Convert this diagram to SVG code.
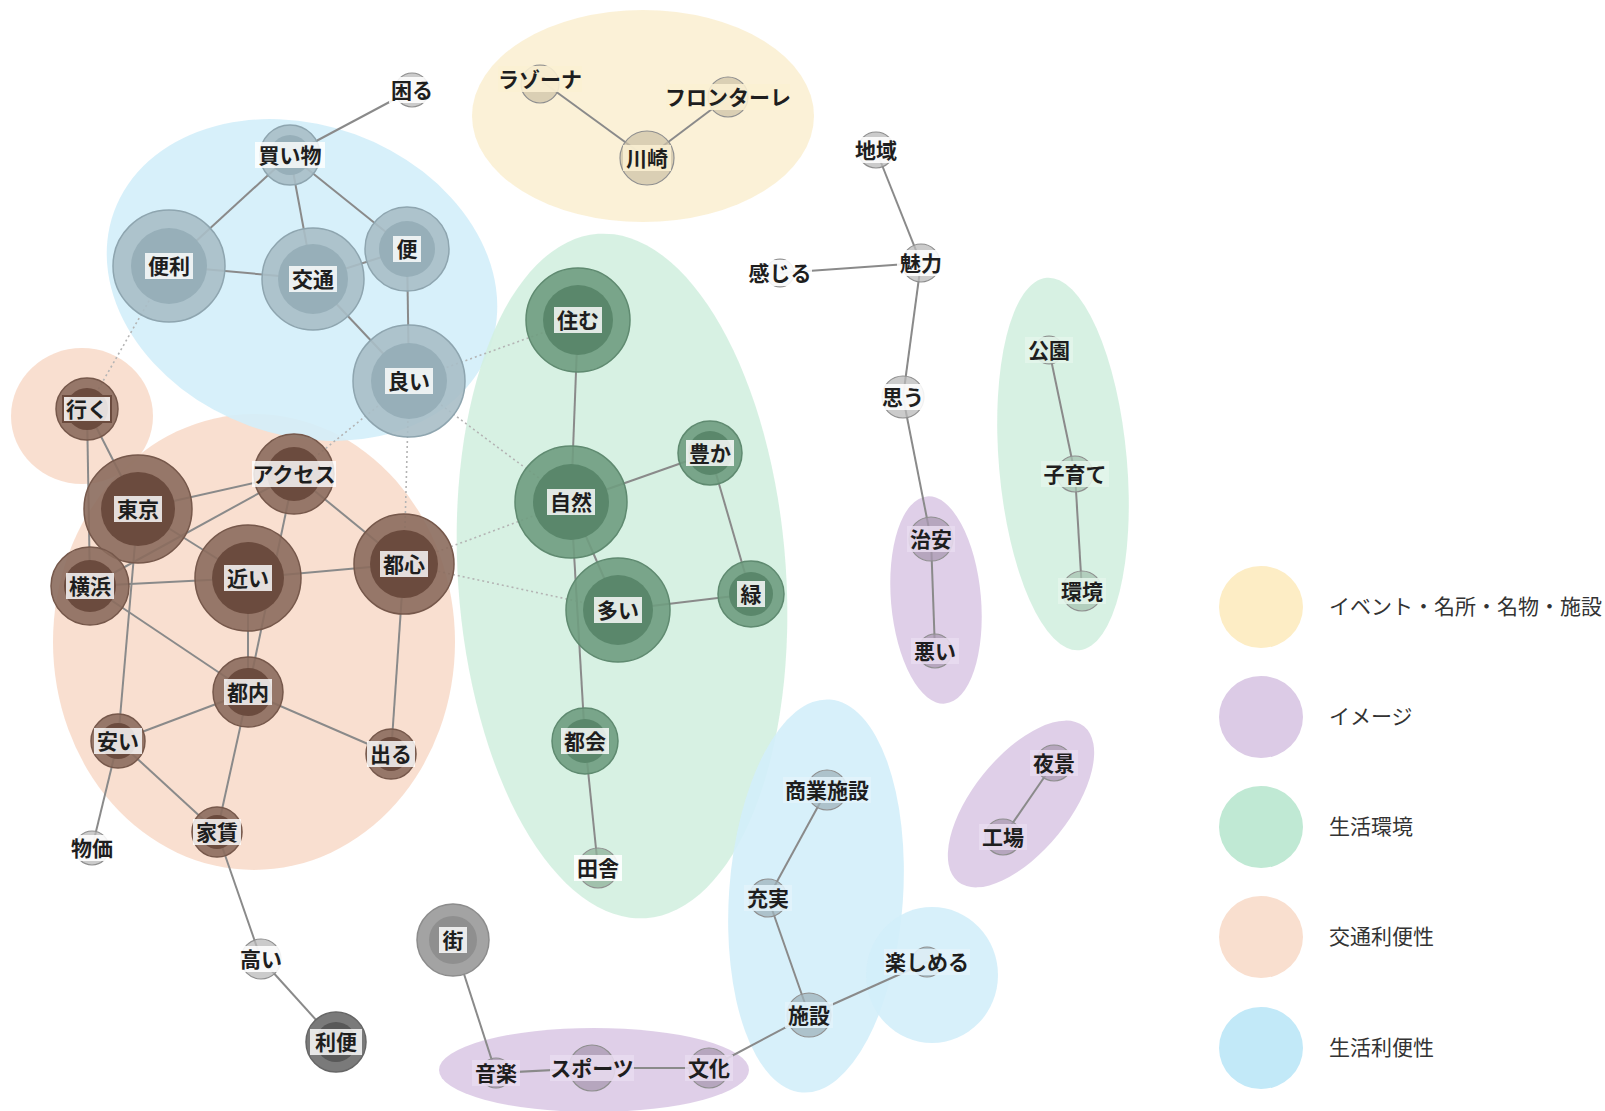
<svg xmlns="http://www.w3.org/2000/svg" width="1605" height="1111" viewBox="0 0 1605 1111">
<style>
.cl{opacity:0.9}
.cy{fill:#fbf0d3}.cp{fill:#dccae6}.cg{fill:#d3f0e0}.co{fill:#f8dccb}.cb{fill:#d3eef9}
.e{stroke:#8a8a8a;stroke-width:2;fill:none}
.d{stroke:#b4b4b4;stroke-width:1.6;stroke-dasharray:2 3;fill:none}
.blue .o{fill:#a8bec7;stroke:#8ea5af;stroke-width:1.5;fill-opacity:.9}
.blue .i{fill:#97afb9}
.brown .o{fill:#8b6b5d;stroke:#76584b;stroke-width:1.5;fill-opacity:.9}
.brown .i{fill:#6b4b3e}
.green .o{fill:#6f9c80;stroke:#5f8a70;stroke-width:1.5;fill-opacity:.9}
.green .i{fill:#5a876b}
.gray .o{fill:#a3a3a3;stroke:#8c8c8c;stroke-width:1.5}
.gray .i{fill:#8f8f8f}
.dgray .o{fill:#7a7a7a;stroke:#666;stroke-width:1.5}
.dgray .i{fill:#585858}
.sm .o{fill:#b9b9b9;stroke:#8f8f8f;stroke-width:1.2;fill-opacity:.75}
.lb{fill:#fff;fill-opacity:.82}
.sm .lb{fill-opacity:.88}
.t{font-family:"Noto Sans CJK JP","Noto Sans",sans-serif;font-size:21px;font-weight:bold;fill:#1e1e1e;text-anchor:middle}
.lg{font-family:"Noto Sans CJK JP","Noto Sans",sans-serif;font-size:21px;fill:#333}
</style>

<g id="clusters">
<ellipse class="cl cy" cx="643" cy="116" rx="171" ry="106"/>
<ellipse class="cl co" cx="254" cy="642" rx="201" ry="228"/>
<ellipse class="cl co" cx="82" cy="416" rx="71" ry="68"/>
<ellipse class="cl cb" cx="302" cy="280" rx="200" ry="155" transform="rotate(20 302 280)"/>
<ellipse class="cl cg" cx="622" cy="576" rx="164" ry="343" transform="rotate(-4 622 576)"/>
<ellipse class="cl cg" cx="1063" cy="464" rx="64" ry="187" transform="rotate(-5 1063 464)"/>
<ellipse class="cl cp" cx="936" cy="600" rx="45" ry="104" transform="rotate(-5 936 600)"/>
<ellipse class="cl cp" cx="1021" cy="804" rx="100" ry="48" transform="rotate(-51 1021 804)"/>
<ellipse class="cl cb" cx="816" cy="896" rx="87" ry="197" transform="rotate(4 816 896)"/>
<ellipse class="cl cb" cx="932" cy="975" rx="66" ry="68"/>
<ellipse class="cl cp" cx="594" cy="1070" rx="155" ry="42"/>
</g>

<g id="connectors">
<line class="d" x1="169" y1="266" x2="87" y2="409"/>
<line class="d" x1="409" y1="381" x2="294" y2="474"/>
<line class="d" x1="409" y1="381" x2="404" y2="564"/>
<line class="d" x1="409" y1="381" x2="578" y2="320"/>
<line class="d" x1="409" y1="381" x2="571" y2="502"/>
<line class="d" x1="404" y1="564" x2="571" y2="502"/>
<line class="d" x1="404" y1="564" x2="618" y2="610"/>
<line class="e" x1="412" y1="90" x2="290" y2="155"/>
<line class="e" x1="290" y1="155" x2="169" y2="266"/>
<line class="e" x1="290" y1="155" x2="313" y2="279"/>
<line class="e" x1="290" y1="155" x2="407" y2="249"/>
<line class="e" x1="169" y1="266" x2="313" y2="279"/>
<line class="e" x1="313" y1="279" x2="407" y2="249"/>
<line class="e" x1="313" y1="279" x2="409" y2="381"/>
<line class="e" x1="407" y1="249" x2="409" y2="381"/>
<line class="e" x1="87" y1="409" x2="138" y2="509"/>
<line class="e" x1="87" y1="409" x2="90" y2="586"/>
<line class="e" x1="138" y1="509" x2="294" y2="474"/>
<line class="e" x1="138" y1="509" x2="248" y2="578"/>
<line class="e" x1="138" y1="509" x2="118" y2="741"/>
<line class="e" x1="90" y1="586" x2="294" y2="474"/>
<line class="e" x1="90" y1="586" x2="248" y2="578"/>
<line class="e" x1="90" y1="586" x2="248" y2="692"/>
<line class="e" x1="294" y1="474" x2="248" y2="692"/>
<line class="e" x1="294" y1="474" x2="404" y2="564"/>
<line class="e" x1="248" y1="578" x2="404" y2="564"/>
<line class="e" x1="248" y1="578" x2="248" y2="692"/>
<line class="e" x1="248" y1="692" x2="118" y2="741"/>
<line class="e" x1="248" y1="692" x2="217" y2="832"/>
<line class="e" x1="248" y1="692" x2="391" y2="754"/>
<line class="e" x1="404" y1="564" x2="391" y2="754"/>
<line class="e" x1="118" y1="741" x2="92" y2="848"/>
<line class="e" x1="118" y1="741" x2="217" y2="832"/>
<line class="e" x1="217" y1="832" x2="261" y2="959"/>
<line class="e" x1="261" y1="959" x2="336" y2="1042"/>
<line class="e" x1="578" y1="320" x2="571" y2="502"/>
<line class="e" x1="571" y1="502" x2="710" y2="453"/>
<line class="e" x1="571" y1="502" x2="618" y2="610"/>
<line class="e" x1="571" y1="502" x2="585" y2="741"/>
<line class="e" x1="710" y1="453" x2="751" y2="594"/>
<line class="e" x1="618" y1="610" x2="751" y2="594"/>
<line class="e" x1="585" y1="741" x2="598" y2="868"/>
<line class="e" x1="540" y1="80" x2="647" y2="158"/>
<line class="e" x1="647" y1="158" x2="728" y2="97"/>
<line class="e" x1="876" y1="150" x2="921" y2="263"/>
<line class="e" x1="780" y1="273" x2="921" y2="263"/>
<line class="e" x1="921" y1="263" x2="903" y2="397"/>
<line class="e" x1="903" y1="397" x2="931" y2="539"/>
<line class="e" x1="931" y1="539" x2="935" y2="651"/>
<line class="e" x1="1049" y1="350" x2="1075" y2="474"/>
<line class="e" x1="1075" y1="474" x2="1082" y2="591"/>
<line class="e" x1="1054" y1="763" x2="1003" y2="837"/>
<line class="e" x1="453" y1="940" x2="496" y2="1073"/>
<line class="e" x1="496" y1="1073" x2="592" y2="1068"/>
<line class="e" x1="592" y1="1068" x2="709" y2="1068"/>
<line class="e" x1="709" y1="1068" x2="809" y2="1015"/>
<line class="e" x1="809" y1="1015" x2="768" y2="898"/>
<line class="e" x1="768" y1="898" x2="827" y2="790"/>
<line class="e" x1="809" y1="1015" x2="927" y2="962"/>
</g>

<g id="n-komaru" class="sm"><circle class="o" cx="412" cy="90" r="17"/><rect class="lb" x="389" y="77" width="46" height="26"/><text class="t" x="412" y="98">困る</text></g>
<g id="n-kaimono" class="blue"><circle class="o" cx="290" cy="155" r="30"/><circle class="i" cx="290" cy="155" r="20"/><rect class="lb" x="255" y="142" width="70" height="26"/><text class="t" x="290" y="163">買い物</text></g>
<g id="n-benri" class="blue"><circle class="o" cx="169" cy="266" r="56"/><circle class="i" cx="169" cy="266" r="38"/><rect class="lb" x="145" y="253" width="48" height="26"/><text class="t" x="169" y="274">便利</text></g>
<g id="n-kotsu" class="blue"><circle class="o" cx="313" cy="279" r="51"/><circle class="i" cx="313" cy="279" r="35"/><rect class="lb" x="289" y="266" width="48" height="26"/><text class="t" x="313" y="287">交通</text></g>
<g id="n-ben" class="blue"><circle class="o" cx="407" cy="249" r="42"/><circle class="i" cx="407" cy="249" r="28"/><rect class="lb" x="393" y="236" width="28" height="26"/><text class="t" x="407" y="257">便</text></g>
<g id="n-yoi" class="blue"><circle class="o" cx="409" cy="381" r="56"/><circle class="i" cx="409" cy="381" r="38"/><rect class="lb" x="385" y="368" width="48" height="26"/><text class="t" x="409" y="389">良い</text></g>

<g id="n-iku" class="brown"><circle class="o" cx="87" cy="409" r="31"/><circle class="i" cx="87" cy="409" r="21"/><rect class="lb" x="63" y="396" width="48" height="26" style="stroke:#6b4b3e;stroke-width:2"/><text class="t" x="87" y="417">行く</text></g>
<g id="n-tokyo" class="brown"><circle class="o" cx="138" cy="509" r="54"/><circle class="i" cx="138" cy="509" r="37"/><rect class="lb" x="114" y="496" width="48" height="26"/><text class="t" x="138" y="517">東京</text></g>
<g id="n-access" class="brown"><circle class="o" cx="294" cy="474" r="40"/><circle class="i" cx="294" cy="474" r="27"/><rect class="lb" x="252" y="461" width="84" height="26"/><text class="t" x="294" y="482">アクセス</text></g>
<g id="n-yokohama" class="brown"><circle class="o" cx="90" cy="586" r="39"/><circle class="i" cx="90" cy="586" r="26"/><rect class="lb" x="66" y="573" width="48" height="26"/><text class="t" x="90" y="594">横浜</text></g>
<g id="n-chikai" class="brown"><circle class="o" cx="248" cy="578" r="53"/><circle class="i" cx="248" cy="578" r="36"/><rect class="lb" x="224" y="565" width="48" height="26"/><text class="t" x="248" y="586">近い</text></g>
<g id="n-toshin" class="brown"><circle class="o" cx="404" cy="564" r="50"/><circle class="i" cx="404" cy="564" r="34"/><rect class="lb" x="380" y="551" width="48" height="26"/><text class="t" x="404" y="572">都心</text></g>
<g id="n-tonai" class="brown"><circle class="o" cx="248" cy="692" r="35"/><circle class="i" cx="248" cy="692" r="24"/><rect class="lb" x="224" y="679" width="48" height="26"/><text class="t" x="248" y="700">都内</text></g>
<g id="n-yasui" class="brown"><circle class="o" cx="118" cy="741" r="27"/><circle class="i" cx="118" cy="741" r="18"/><rect class="lb" x="94" y="728" width="48" height="26"/><text class="t" x="118" y="749">安い</text></g>
<g id="n-deru" class="brown"><circle class="o" cx="391" cy="754" r="25"/><circle class="i" cx="391" cy="754" r="17"/><rect class="lb" x="367" y="741" width="48" height="26"/><text class="t" x="391" y="762">出る</text></g>
<g id="n-yachin" class="brown"><circle class="o" cx="217" cy="832" r="25"/><circle class="i" cx="217" cy="832" r="17"/><rect class="lb" x="193" y="819" width="48" height="26"/><text class="t" x="217" y="840">家賃</text></g>
<g id="n-bukka" class="sm"><circle class="o" cx="92" cy="848" r="17"/><rect class="lb" x="68" y="835" width="48" height="26"/><text class="t" x="92" y="856">物価</text></g>
<g id="n-takai" class="sm"><circle class="o" cx="261" cy="959" r="20"/><rect class="lb" x="237" y="946" width="48" height="26"/><text class="t" x="261" y="967">高い</text></g>
<g id="n-riben" class="dgray"><circle class="o" cx="336" cy="1042" r="30"/><circle class="i" cx="336" cy="1042" r="20"/><rect class="lb" x="310" y="1029" width="52" height="26"/><text class="t" x="336" y="1050">利便</text></g>

<g id="n-sumu" class="green"><circle class="o" cx="578" cy="320" r="52"/><circle class="i" cx="578" cy="320" r="35"/><rect class="lb" x="554" y="307" width="48" height="26"/><text class="t" x="578" y="328">住む</text></g>
<g id="n-shizen" class="green"><circle class="o" cx="571" cy="502" r="56"/><circle class="i" cx="571" cy="502" r="38"/><rect class="lb" x="547" y="489" width="48" height="26"/><text class="t" x="571" y="510">自然</text></g>
<g id="n-yutaka" class="green"><circle class="o" cx="710" cy="453" r="32"/><circle class="i" cx="710" cy="453" r="22"/><rect class="lb" x="686" y="440" width="48" height="26"/><text class="t" x="710" y="461">豊か</text></g>
<g id="n-midori" class="green"><circle class="o" cx="751" cy="594" r="33"/><circle class="i" cx="751" cy="594" r="22"/><rect class="lb" x="737" y="581" width="28" height="26"/><text class="t" x="751" y="602">緑</text></g>
<g id="n-ooi" class="green"><circle class="o" cx="618" cy="610" r="52"/><circle class="i" cx="618" cy="610" r="35"/><rect class="lb" x="594" y="597" width="48" height="26"/><text class="t" x="618" y="618">多い</text></g>
<g id="n-tokai" class="green"><circle class="o" cx="585" cy="741" r="33"/><circle class="i" cx="585" cy="741" r="22"/><rect class="lb" x="561" y="728" width="48" height="26"/><text class="t" x="585" y="749">都会</text></g>
<g id="n-inaka" class="sm"><circle class="o" cx="598" cy="868" r="20" style="fill:#8fb09a"/><rect class="lb" x="574" y="855" width="48" height="26"/><text class="t" x="598" y="876">田舎</text></g>

<g id="n-lazona" class="sm"><circle class="o" cx="540" cy="84" r="19" style="fill:#cfc3a8"/><rect class="lb" x="498" y="66" width="84" height="26" style="fill:#fbf0d3"/><text class="t" x="540" y="87">ラゾーナ</text></g>
<g id="n-frontale" class="sm"><circle class="o" cx="728" cy="97" r="20" style="fill:#cfc3a8"/><rect class="lb" x="666" y="84" width="124" height="26" style="fill:#fbf0d3"/><text class="t" x="728" y="105">フロンターレ</text></g>
<g id="n-kawasaki" class="sm"><circle class="o" cx="647" cy="158" r="27" style="fill:#cfc3a8"/><rect class="lb" x="623" y="145" width="48" height="26" style="fill:#fbf0d3"/><text class="t" x="647" y="166">川崎</text></g>

<g id="n-chiiki" class="sm"><circle class="o" cx="876" cy="150" r="18"/><rect class="lb" x="852" y="137" width="48" height="26"/><text class="t" x="876" y="158">地域</text></g>
<g id="n-miryoku" class="sm"><circle class="o" cx="921" cy="263" r="19"/><rect class="lb" x="897" y="250" width="48" height="26"/><text class="t" x="921" y="271">魅力</text></g>
<g id="n-kanjiru" class="sm"><circle class="o" cx="780" cy="273" r="14"/><rect class="lb" x="748" y="260" width="64" height="26"/><text class="t" x="780" y="281">感じる</text></g>
<g id="n-omou" class="sm"><circle class="o" cx="903" cy="397" r="21"/><rect class="lb" x="879" y="384" width="48" height="26"/><text class="t" x="903" y="405">思う</text></g>
<g id="n-chian" class="sm"><circle class="o" cx="931" cy="539" r="22" style="fill:#a898b0"/><rect class="lb" x="907" y="526" width="48" height="26" style="fill:#e8dcef"/><text class="t" x="931" y="547">治安</text></g>
<g id="n-warui" class="sm"><circle class="o" cx="935" cy="651" r="17" style="fill:#a898b0"/><rect class="lb" x="911" y="638" width="48" height="26" style="fill:#e8dcef"/><text class="t" x="935" y="659">悪い</text></g>
<g id="n-koen" class="sm"><circle class="o" cx="1049" cy="350" r="14" style="fill:#a5c2b0"/><rect class="lb" x="1025" y="337" width="48" height="26" style="fill:#e4f5eb"/><text class="t" x="1049" y="358">公園</text></g>
<g id="n-kosodate" class="sm"><circle class="o" cx="1075" cy="474" r="18" style="fill:#a5c2b0"/><rect class="lb" x="1041" y="461" width="68" height="26" style="fill:#e4f5eb"/><text class="t" x="1075" y="482">子育て</text></g>
<g id="n-kankyo" class="sm"><circle class="o" cx="1082" cy="591" r="20" style="fill:#a5c2b0"/><rect class="lb" x="1058" y="578" width="48" height="26" style="fill:#e4f5eb"/><text class="t" x="1082" y="599">環境</text></g>
<g id="n-yakei" class="sm"><circle class="o" cx="1054" cy="763" r="18" style="fill:#a898b0"/><rect class="lb" x="1030" y="750" width="48" height="26" style="fill:#e8dcef"/><text class="t" x="1054" y="771">夜景</text></g>
<g id="n-kojo" class="sm"><circle class="o" cx="1003" cy="837" r="18" style="fill:#a898b0"/><rect class="lb" x="979" y="824" width="48" height="26" style="fill:#e8dcef"/><text class="t" x="1003" y="845">工場</text></g>

<g id="n-shogyo" class="sm"><circle class="o" cx="827" cy="790" r="20" style="fill:#9fb3bb"/><rect class="lb" x="783" y="777" width="88" height="26" style="fill:#e3f3fa"/><text class="t" x="827" y="798">商業施設</text></g>
<g id="n-jujitsu" class="sm"><circle class="o" cx="768" cy="898" r="19" style="fill:#9fb3bb"/><rect class="lb" x="744" y="885" width="48" height="26" style="fill:#e3f3fa"/><text class="t" x="768" y="906">充実</text></g>
<g id="n-shisetsu" class="sm"><circle class="o" cx="809" cy="1015" r="22" style="fill:#9fb3bb"/><rect class="lb" x="785" y="1002" width="48" height="26" style="fill:#e3f3fa"/><text class="t" x="809" y="1023">施設</text></g>
<g id="n-tanoshimeru" class="sm"><circle class="o" cx="927" cy="962" r="15" style="fill:#9fb3bb"/><rect class="lb" x="884" y="949" width="86" height="26" style="fill:#e3f3fa"/><text class="t" x="927" y="970">楽しめる</text></g>
<g id="n-machi" class="gray"><circle class="o" cx="453" cy="940" r="36"/><circle class="i" cx="453" cy="940" r="24"/><rect class="lb" x="439" y="927" width="28" height="26"/><text class="t" x="453" y="948">街</text></g>
<g id="n-ongaku" class="sm"><circle class="o" cx="496" cy="1073" r="15" style="fill:#a898b0"/><rect class="lb" x="472" y="1060" width="48" height="26" style="fill:#e8dcef"/><text class="t" x="496" y="1081">音楽</text></g>
<g id="n-sports" class="sm"><circle class="o" cx="592" cy="1068" r="23" style="fill:#a898b0"/><rect class="lb" x="550" y="1055" width="84" height="26" style="fill:#e8dcef"/><text class="t" x="592" y="1076">スポーツ</text></g>
<g id="n-bunka" class="sm"><circle class="o" cx="709" cy="1068" r="20" style="fill:#a898b0"/><rect class="lb" x="685" y="1055" width="48" height="26" style="fill:#e8dcef"/><text class="t" x="709" y="1076">文化</text></g>

<g id="legend">
<ellipse cx="1261" cy="607" rx="42" ry="41" fill="#fdedc5"/>
<text class="lg" x="1329" y="614">イベント・名所・名物・施設</text>
<ellipse cx="1261" cy="717" rx="42" ry="41" fill="#dccbe6"/>
<text class="lg" x="1329" y="724">イメージ</text>
<ellipse cx="1261" cy="827" rx="42" ry="41" fill="#c0e9d4"/>
<text class="lg" x="1329" y="834">生活環境</text>
<ellipse cx="1261" cy="937" rx="42" ry="41" fill="#f9dfcf"/>
<text class="lg" x="1329" y="944">交通利便性</text>
<ellipse cx="1261" cy="1048" rx="42" ry="41" fill="#c2e9f8"/>
<text class="lg" x="1329" y="1055">生活利便性</text>
</g>
</svg>
